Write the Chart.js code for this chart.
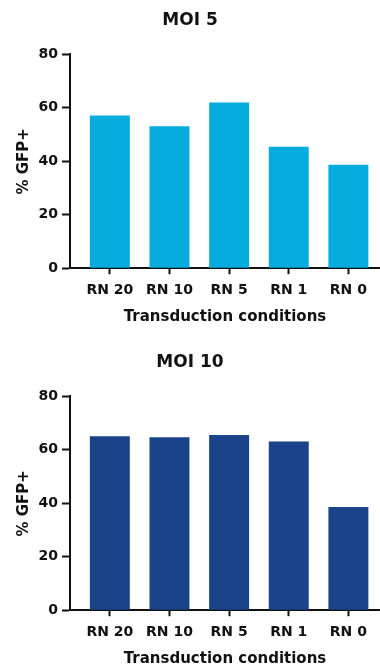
<!DOCTYPE html>
<html>
<head>
<meta charset="utf-8">
<title>% GFP+ by transduction condition</title>
<script src="https://cdn.jsdelivr.net/npm/chart.js@4.4.1/dist/chart.umd.min.js"></script>
<style>
  html, body { margin: 0; padding: 0; background: #fff; overflow: hidden; }
  body { width: 380px; height: 665px; position: relative; }
  .panel { position: absolute; left: 0; width: 380px; height: 342px; }
  #p1 { top: 0; }
  #p2 { top: 342px; }
</style>
</head>
<body>
<div class="panel" id="p1"><canvas id="c1"></canvas></div>
<div class="panel" id="p2"><canvas id="c2"></canvas></div>
<script>
// Conditions along the x axis
const categories = ['RN 20', 'RN 10', 'RN 5', 'RN 1', 'RN 0'];
// % GFP+ cells at each multiplicity of infection
const moi5Values = [57.1, 53.1, 62.0, 45.4, 38.7];
const moi10Values = [65.1, 64.7, 65.6, 63.1, 38.6];
// Value axis ticks
const yTickValues = [0, 20, 40, 60, 80];

const FONT = 'DejaVu Sans';
const INK = '#111111';

function makeChart(canvasId, title, values, color) {
  const points = values.map((v, i) => ({ x: i, y: v }));
  return new Chart(document.getElementById(canvasId), {
    type: 'bar',
    data: {
      datasets: [{
        data: points,
        backgroundColor: color,
        borderWidth: 0,
        categoryPercentage: 1,
        barPercentage: 0.67
      }]
    },
    options: {
      responsive: true,
      maintainAspectRatio: false,
      animation: false,
      layout: { padding: { left: 0, right: 0, top: 0, bottom: 16 } },
      plugins: {
        legend: { display: false },
        tooltip: { enabled: false },
        title: {
          display: true,
          text: title,
          color: INK,
          font: { family: FONT, size: 17, weight: 'bold' },
          padding: { top: 10, bottom: 24 }
        }
      },
      scales: {
        x: {
          type: 'linear',
          offset: false,
          min: -0.668,
          max: 4.53,
          afterBuildTicks: (scale) => {
            scale.ticks = categories.map((_, i) => ({ value: i }));
          },
          ticks: {
            includeBounds: false,
            stepSize: 1,
            autoSkip: false,
            maxRotation: 0,
            padding: 8,
            color: INK,
            font: { family: FONT, size: 14, weight: 'bold' },
            callback: (v) => categories[v] ?? ''
          },
          grid: {
            offset: false,
            drawOnChartArea: false,
            drawTicks: true,
            tickLength: 6,
            tickWidth: 2,
            tickColor: INK
          },
          border: { display: true, color: INK, width: 2 },
          title: {
            display: true,
            text: 'Transduction conditions',
            color: INK,
            font: { family: FONT, size: 15, weight: 'bold' },
            padding: { top: 1, bottom: 0 }
          }
        },
        y: {
          min: 0,
          max: 80,
          afterFit: (scale) => { scale.width = 70; },
          afterBuildTicks: (scale) => {
            scale.ticks = yTickValues.map((v) => ({ value: v }));
          },
          ticks: {
            padding: 4,
            color: INK,
            font: { family: FONT, size: 14, weight: 'bold' }
          },
          grid: {
            drawOnChartArea: false,
            drawTicks: true,
            tickLength: 8,
            tickWidth: 2,
            tickColor: INK
          },
          border: { display: true, color: INK, width: 2 },
          title: {
            display: true,
            text: '% GFP+',
            color: INK,
            font: { family: FONT, size: 15, weight: 'bold' },
            padding: { top: 15, bottom: 0 }
          }
        }
      }
    }
  });
}

makeChart('c1', 'MOI 5', moi5Values, '#06ACDE');
makeChart('c2', 'MOI 10', moi10Values, '#1A4389');
</script>
</body>
</html>
